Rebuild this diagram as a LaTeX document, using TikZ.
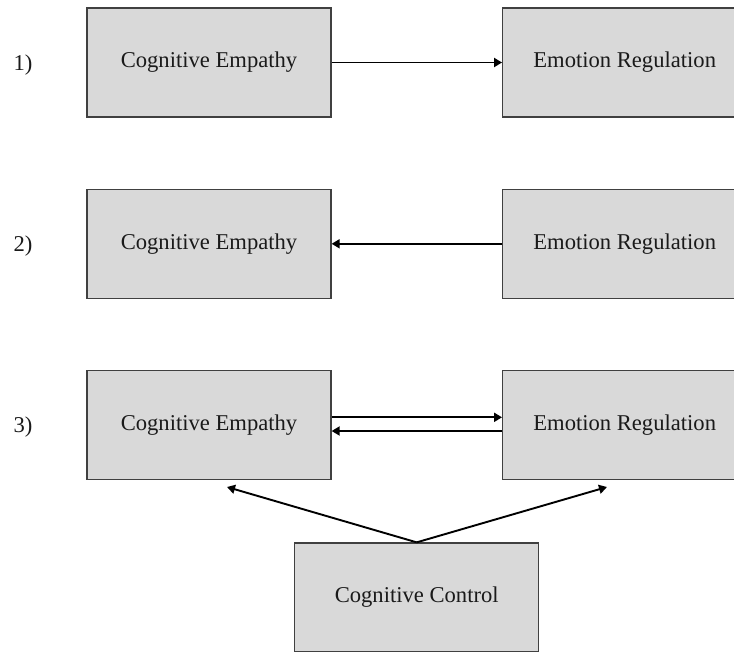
\documentclass[tikz,border=0pt]{standalone}
\usepackage{fontspec}
\setmainfont{Liberation Serif}
\usetikzlibrary{arrows.meta}
\definecolor{boxfill}{HTML}{D9D9D9}
\definecolor{boxline}{HTML}{404040}
\definecolor{txt}{HTML}{1A1A1A}
\tikzset{
  varbox/.style={draw=boxline, line width=1.3pt, fill=boxfill, minimum width=244pt, minimum height=109pt, inner sep=0pt, font=\fontsize{22.6}{26}\selectfont, text=txt},
  rowlabel/.style={font=\fontsize{22.6}{26}\selectfont, text=txt, inner sep=0pt},
  link/.style={line width=1.9pt, draw=black, -{Triangle[length=8pt,width=9pt]}}
}
\newcommand{\lowtext}[1]{\raisebox{-2.5pt}{#1}}
\begin{document}
\begin{tikzpicture}[x=1pt,y=-1pt]
\useasboundingbox (0,0) rectangle (734,651);
\clip (0,0) rectangle (734,651);
% row 1
\node[rowlabel] (l1) at (23,65) {1)};
\node[varbox] (ce1) at (209,62.5) {\lowtext{Cognitive Empathy}};
\node[varbox] (er1) at (624.7,62.5) {\lowtext{Emotion Regulation}};
\draw[link] (ce1.east) -- (er1.west);
% row 2
\node[rowlabel] (l2) at (23,246) {2)};
\node[varbox] (ce2) at (209,243.8) {\lowtext{Cognitive Empathy}};
\node[varbox] (er2) at (624.7,243.8) {\lowtext{Emotion Regulation}};
\draw[link] (er2.west) -- (ce2.east);
% row 3
\node[rowlabel] (l3) at (23,427) {3)};
\node[varbox] (ce3) at (209,425) {\lowtext{Cognitive Empathy}};
\node[varbox] (er3) at (624.7,425) {\lowtext{Emotion Regulation}};
\draw[link] ([yshift=7.7pt]ce3.east) -- ([yshift=7.7pt]er3.west);
\draw[link] ([yshift=-6pt]er3.west) -- ([yshift=-6pt]ce3.east);
\node[varbox] (cc) at (416.7,597.5) {\lowtext{Cognitive Control}};
\coordinate (tl) at (227,487);
\coordinate (tr) at (607,487);
\draw[link] (cc.north) -- (tl);
\draw[link] (cc.north) -- (tr);
\end{tikzpicture}
\end{document}
